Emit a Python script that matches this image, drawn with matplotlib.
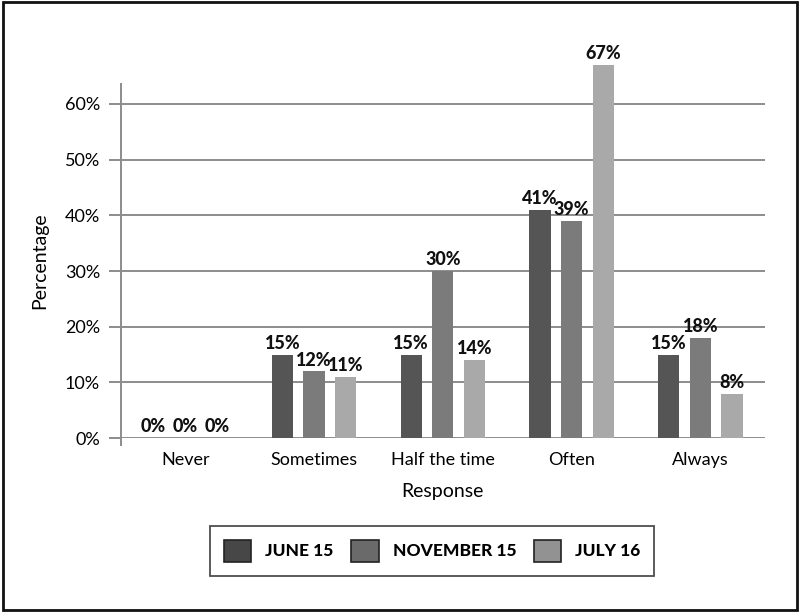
import matplotlib.pyplot as plt
import numpy as np
from matplotlib.patches import Rectangle

# Survey responses (percent) for each round
responses = ['Never', 'Sometimes', 'Half the time', 'Often', 'Always']
june_15 = [0, 15, 15, 41, 15]
november_15 = [0, 12, 30, 39, 18]
july_16 = [0, 11, 14, 67, 8]
series_names = ['JUNE 15', 'NOVEMBER 15', 'JULY 16']
yticks = [0, 10, 20, 30, 40, 50, 60]

plt.rcParams['font.family'] = ['Lato', 'DejaVu Sans']

fig = plt.figure(figsize=(8, 6.12), dpi=100)
ax = fig.add_axes([0.151, 0.284, 0.805, 0.579])

bar_colors = ['#555555', '#7b7b7b', '#a9a9a9']
legend_colors = ['#474747', '#6a6a6a', '#929292']
x = np.arange(len(responses))
width = 0.165
step = 0.245

for i, vals in enumerate([june_15, november_15, july_16]):
    pos = x + (i - 1) * step
    bars = ax.bar(pos, vals, width, color=bar_colors[i], zorder=3, clip_on=False)
    for b, v in zip(bars, vals):
        ax.text(b.get_x() + b.get_width() / 2, v + 0.5, f'{v}%',
                ha='center', va='bottom', fontsize=13, fontweight='black',
                color='#111111', zorder=4, clip_on=False)

ax.set_xlim(-0.5, 4.5)
ax.set_ylim(0, 63.6)
ax.set_yticks(yticks)
ax.set_yticklabels([f'{t}%' for t in yticks], fontsize=13)
ax.set_xticks(x)
ax.set_xticklabels(responses, fontsize=13)
ax.yaxis.grid(True, color='#8c8c8c', linewidth=1.4, zorder=0)
ax.tick_params(axis='y', length=9, color='#8c8c8c', width=1.4, pad=6)
ax.tick_params(axis='x', length=0, pad=10)
for s in ['top', 'right', 'bottom']:
    ax.spines[s].set_visible(False)
ax.spines['left'].set_color('#8c8c8c')
ax.spines['left'].set_linewidth(1.4)
ax.spines['left'].set_bounds(-1.2, 63.6)

ax.set_xlabel('Response', fontsize=14, labelpad=11)
ax.set_ylabel('Percentage', fontsize=14, labelpad=12)

handles = [Rectangle((0, 0), 1, 1, facecolor=c, edgecolor='#222222', linewidth=1.2)
           for c in legend_colors]
leg = fig.legend(handles, series_names, loc='center', bbox_to_anchor=(0.54, 0.1),
                 ncol=3, frameon=True, fancybox=False, edgecolor='#222222',
                 handlelength=1.6, handleheight=1.6, handletextpad=0.8,
                 columnspacing=1.0, borderpad=0.8,
                 prop={'weight': 'black', 'size': 12.5})
leg.get_frame().set_linewidth(1.3)

# outer frame around the whole figure
fig.patches.append(Rectangle((0.004, 0.004), 0.992, 0.992, transform=fig.transFigure,
                             fill=False, edgecolor='#111111', linewidth=2))

fig.savefig('out.png', dpi=100)
